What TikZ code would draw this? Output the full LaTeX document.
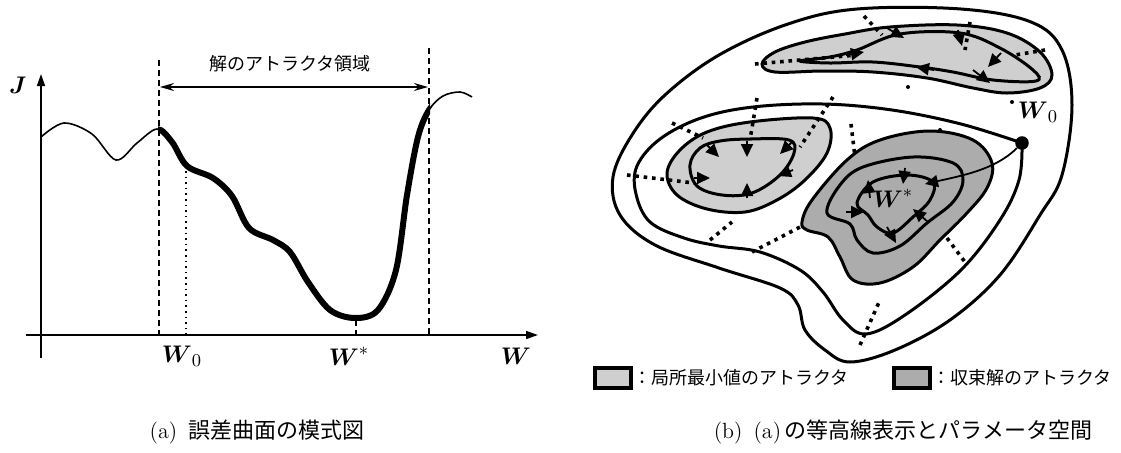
\documentclass[tikz,border=0pt]{standalone}
\usepackage{amsmath}
\usepackage{fontspec}
\newfontfamily\jpfont{Noto Sans CJK JP}
\usetikzlibrary{arrows.meta}

\begin{document}
\begin{tikzpicture}[x=0.5pt,y=-0.5pt,
    axis/.style={line width=0.8pt,-{Triangle[length=6pt,width=4pt]}},
    guide/.style={line width=0.8pt,dash pattern=on 3pt off 2pt},
    contour/.style={line width=1.5pt},
    sepline/.style={line width=1.8pt,dash pattern=on 1.8pt off 2.4pt},
    flow/.style={-{Triangle[length=6.5pt,width=6pt]},line width=0.9pt},
    lightbasin/.style={contour,fill=gray!38},
    darkbasin/.style={contour,fill=gray!65},
    jplabel/.style={font=\jpfont\fontsize{9}{11}\selectfont},
    caption/.style={font=\fontsize{11}{13}\selectfont},
    wlabel/.style={font=\fontsize{13}{15}\selectfont}]
  \useasboundingbox (0,0) rectangle (1121,452);

  % ---------- (a) error surface ----------
  \coordinate (xa0) at (26,335);  \coordinate (xa1) at (538,335);
  \coordinate (ya0) at (41,358);  \coordinate (ya1) at (41,74);
  \draw[axis] (xa0) -- (xa1);
  \draw[axis] (ya0) -- (ya1);
  \node[wlabel] (Jlab) at (18,85) {$\boldsymbol{J}$};
  \node[wlabel] (Wlab) at (516,356) {$\boldsymbol{W}$};
  \node[wlabel] (W0lab) at (182,356) {$\boldsymbol{W}_0$};
  \node[wlabel] (Wslab) at (349,356) {$\boldsymbol{W}^{*}$};
  % attractor borders
  \coordinate (bl0) at (159,60);  \coordinate (bl1) at (159,335);
  \coordinate (br0) at (429,48);  \coordinate (br1) at (429,335);
  \draw[guide] (bl0) -- (bl1);
  \draw[guide] (br0) -- (br1);
  \draw[line width=0.8pt,dotted] (186,171) -- (186,335);
  \draw[guide] (356,320) -- (356,335);
  \coordinate (ra0) at (160,87);  \coordinate (ra1) at (428,87);
  \draw[line width=0.8pt,{Stealth[length=7pt,width=4pt]}-{Stealth[length=7pt,width=4pt]}] (ra0) -- (ra1);
  \node[jplabel] (region) at (290,64) {解のアトラクタ領域};
  % curve: thin everywhere, thick inside the attractor region
  \def\errcurve{plot[smooth,tension=0.55] coordinates {
    (41,137) (64,123) (92,134) (116,160) (137,143) (157,129) (172,142)
    (187,166) (213,178) (232,196) (249,228) (273,240) (290,252) (308,282)
    (330,310) (355,318) (378,310) (396,270) (407,195) (418,137) (429,110)
    (443,96) (460,92) (472,97)}}
  \draw[line width=0.8pt] \errcurve;
  \begin{scope}
    \clip (158,0) rectangle (430,400);
    \draw[line width=3pt] \errcurve;
  \end{scope}

  % ---------- (b) contour map ----------
  % outer contours
  \draw[contour] plot[smooth cycle,tension=0.6] coordinates {
    (613,177) (632,135) (665,95) (719,55) (788,24) (857,9) (961,9) (1031,22)
    (1062,50) (1072,105) (1062,175) (1040,215) (1000,275) (950,320) (895,350)
    (850,362) (825,350) (805,330) (798,305) (780,288) (719,268) (655,245) (620,215)};
  \draw[contour] plot[smooth,tension=0.6] coordinates {
    (1022,143) (961,124) (892,110) (823,104) (753,107) (701,118) (660,139)
    (637,166) (636,194) (650,222) (684,238) (719,246) (760,252) (800,270)
    (823,292) (843,320) (866,334) (905,315) (961,270) (1000,220) (1019,180) (1022,143)};
  % upper basin
  \draw[lightbasin] plot[smooth cycle,tension=0.6] coordinates {
    (762,64) (775,52) (805,42) (845,34) (890,27) (957,25) (1007,33) (1040,52)
    (1052,75) (1040,88) (1007,93) (973,88) (927,78) (873,72) (823,71) (775,72)};
  \draw[contour] plot[smooth cycle,tension=0.6] coordinates {
    (800,61) (830,57) (857,50) (900,34) (960,33) (1000,48) (1033,70) (1036,81)
    (993,80) (953,72) (920,67) (873,62) (830,63)};
  % left basin
  \draw[lightbasin] plot[smooth cycle,tension=0.6] coordinates {
    (667,173) (680,150) (707,132) (750,122) (813,118) (830,128) (827,153)
    (805,180) (777,200) (745,212) (707,209) (677,195)};
  \draw[contour] plot[smooth cycle,tension=0.6] coordinates {
    (690,165) (700,148) (720,141) (750,139) (789,140) (794,153) (780,175)
    (752,193) (722,195) (697,186)};
  % converged basin
  \draw[darkbasin] plot[smooth cycle,tension=0.6] coordinates {
    (802,222) (812,200) (847,160) (880,140) (930,131) (973,140) (992,163)
    (987,188) (967,213) (940,240) (913,267) (880,283) (853,280) (840,257)
    (828,237) (807,230)};
  \draw[contour] plot[smooth cycle,tension=0.6] coordinates {
    (827,213) (840,185) (863,167) (913,157) (953,163) (963,180) (953,202)
    (927,223) (900,246) (873,253) (857,240) (850,224)};
  \draw[contour] plot[smooth cycle,tension=0.6] coordinates {
    (857,203) (873,182) (907,175) (933,182) (930,200) (913,217) (893,233)
    (877,227) (868,215)};
  % separating lines
  \draw[sepline] (864,16) -- (882,35);
  \draw[sepline] (970,22) -- (965,50);
  \draw[sepline] (1045,50) -- (1015,55);
  \draw[sepline] (755,64) -- (857,55);
  \draw[sepline] (627,175) -- (694,183);
  \draw[sepline] (672,123) -- (703,138);
  \draw[sepline] (757,98) -- (750,140);
  \draw[sepline] (833,97) -- (800,147);
  \draw[sepline] (851,124) -- (855,157);
  \draw[sepline] (710,240) -- (732,222);
  \draw[sepline] (752,252) -- (802,226);
  \draw[sepline] (947,238) -- (965,262);
  \draw[sepline] (860,345) -- (880,300);
  \fill (908,87) circle (2); \fill (1012,102) circle (2); \fill (940,130) circle (2);
  % flow directions
  \draw[flow] (747,141) -- (747,157);
  \draw[flow] (707,145) -- (719,157);
  \draw[flow] (792,142) -- (780,154);
  \draw[flow] (694,178) -- (710,178);
  \draw[flow] (793,170) -- (778,176);
  \draw[flow] (747,198) -- (747,183);
  \draw[flow] (846,55) -- (864,52);
  \draw[flow] (887,28) -- (904,38);
  \draw[flow] (958,30) -- (962,46);
  \draw[flow] (1001,53) -- (988,67);
  \draw[flow] (973,70) -- (990,83);
  \draw[flow] (934,70) -- (916,67);
  \draw[flow] (870,198) -- (868,180);
  \draw[flow] (905,168) -- (903,184);
  \draw[flow] (846,212) -- (864,212);
  \draw[flow] (928,222) -- (913,209);
  \draw[flow] (887,227) -- (896,243);
  % trajectory from W0
  \node[circle,fill,inner sep=2.4pt] (start) at (1022,143) {};
  \coordinate (arrive) at (925,184);
  \draw[flow] (start) .. controls (995,170) and (960,176) .. (arrive);
  \node[wlabel] (W0b) at (1038,112) {$\boldsymbol{W}_0$};
  \node[wlabel] (Wsb) at (893,198) {$\boldsymbol{W}^{*}$};

  % legend
  \node[draw,line width=1.8pt,fill=gray!38,minimum width=18pt,minimum height=10pt,inner sep=0pt] (keylight) at (613,378) {};
  \node[jplabel,anchor=west,inner sep=0pt] (txtlight) at (keylight.east) {：局所最小値のアトラクタ};
  \node[draw,line width=1.8pt,fill=gray!65,minimum width=18pt,minimum height=10pt,inner sep=0pt] (keydark) at (912,378) {};
  \node[jplabel,anchor=west,inner sep=0pt] (txtdark) at (keydark.east) {：収束解のアトラクタ};

  % captions
  \node[caption] (capa) at (257,432) {(a)\enspace{\jpfont 誤差曲面の模式図}};
  \node[caption] (capb) at (903,432) {(b)\enspace(a)\,{\jpfont の等高線表示とパラメータ空間}};
\end{tikzpicture}
\end{document}
